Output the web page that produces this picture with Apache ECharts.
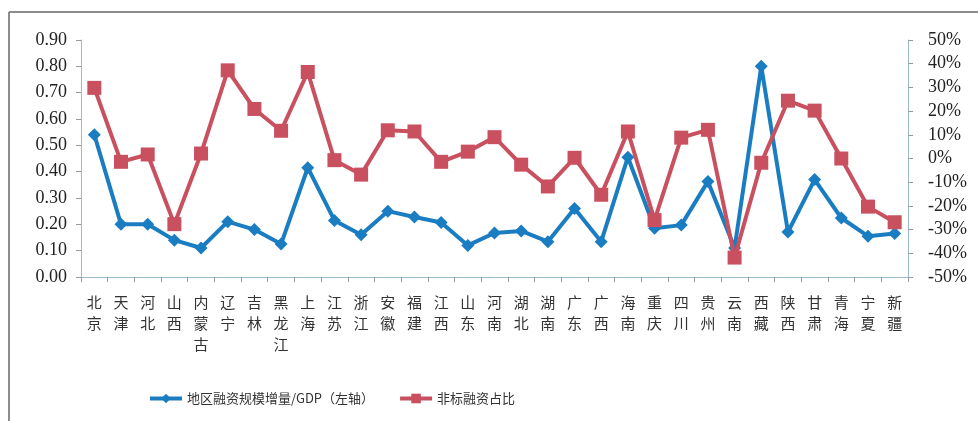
<!DOCTYPE html>
<html>
<head>
<meta charset="utf-8">
<script src="https://cdn.jsdelivr.net/npm/echarts@6/dist/echarts.min.js"></script>
<style>
html,body{margin:0;padding:0;background:#fff;}
#c{width:978px;height:421px;}
</style>
</head>
<body>
<div id="c"></div>
<script>
var provinces = ['北京','天津','河北','山西','内蒙古','辽宁','吉林','黑龙江','上海','江苏','浙江','安徽','福建','江西','山东','河南','湖北','湖南','广东','广西','海南','重庆','四川','贵州','云南','西藏','陕西','甘肃','青海','宁夏','新疆'];
var financingToGdp = [0.54,0.20,0.20,0.14,0.11,0.21,0.18,0.125,0.415,0.215,0.16,0.25,0.228,0.207,0.12,0.167,0.175,0.134,0.26,0.134,0.455,0.185,0.197,0.363,0.11,0.80,0.171,0.37,0.224,0.155,0.165];
var nonStandardShare = [29.8,-1.4,1.7,-27.7,2.1,37.2,20.9,11.7,36.5,-0.7,-6.8,11.9,11.4,-1.4,2.9,9.0,-2.6,-11.8,0.3,-15.3,11.4,-26.0,8.8,12.1,-41.8,-1.8,24.4,20.2,0.0,-20.3,-26.9];
var leftTicks = {min:0, max:0.9, interval:0.1};
var rightTicks = {min:-50, max:50, interval:10};
var seriesNames = ['地区融资规模增量/GDP（左轴）','非标融资占比'];

var chart = echarts.init(document.getElementById('c'));
var numFont = 'Liberation Serif';
var cjkFont = 'Noto Sans CJK SC';
var axisColor = '#9bbccc';
chart.setOption({
  animation:false,
  backgroundColor:'#fff',
  graphic:[
    {type:'line', shape:{x1:9,y1:12,x2:978,y2:12}, style:{stroke:'#666',lineWidth:1.5}},
    {type:'line', shape:{x1:9,y1:12,x2:9,y2:421}, style:{stroke:'#666',lineWidth:1.5}}
  ],
  grid:{left:81,right:70,top:40,bottom:144},
  legend:{
    left:143, top:387,
    itemWidth:32, itemHeight:12, itemGap:24,
    lineStyle:{width:4},
    textStyle:{fontFamily:cjkFont,fontSize:13,color:'#333'},
    data:seriesNames
  },
  xAxis:{
    type:'category',
    data:provinces,
    boundaryGap:true,
    axisLine:{lineStyle:{color:axisColor,width:1}},
    axisTick:{show:true,alignWithLabel:false,length:5,inside:false,lineStyle:{color:'#999'}},
    axisLabel:{
      interval:0, margin:15, fontFamily:cjkFont, fontSize:15, lineHeight:21, color:'#333',
      formatter:function(v){return v.split('').join('\n');}
    }
  },
  yAxis:[
    {
      type:'value', position:'left',
      min:leftTicks.min, max:leftTicks.max, interval:leftTicks.interval,
      axisLine:{show:true,lineStyle:{color:axisColor}},
      axisTick:{show:true,length:5,lineStyle:{color:'#999'}},
      splitLine:{show:false},
      axisLabel:{fontFamily:numFont,fontSize:18,color:'#222',margin:14,
        formatter:function(v){return v.toFixed(2);}}
    },
    {
      type:'value', position:'right',
      min:rightTicks.min, max:rightTicks.max, interval:rightTicks.interval,
      axisLine:{show:true,lineStyle:{color:axisColor}},
      axisTick:{show:true,length:5,lineStyle:{color:'#999'}},
      splitLine:{show:false},
      axisLabel:{fontFamily:numFont,fontSize:18,color:'#222',margin:20,
        formatter:function(v){return Math.round(v)+'%';}}
    }
  ],
  series:[
    {
      name:seriesNames[0], type:'line', yAxisIndex:0, data:financingToGdp,
      symbol:'diamond', symbolSize:13,
      lineStyle:{color:'#1a7dc2',width:4},
      itemStyle:{color:'#1a7dc2'},
      z:3
    },
    {
      name:seriesNames[1], type:'line', yAxisIndex:1, data:nonStandardShare,
      symbol:'rect', symbolSize:14,
      lineStyle:{color:'#c9505f',width:4},
      itemStyle:{color:'#c9505f'},
      z:4
    }
  ]
});
</script>
</body>
</html>
